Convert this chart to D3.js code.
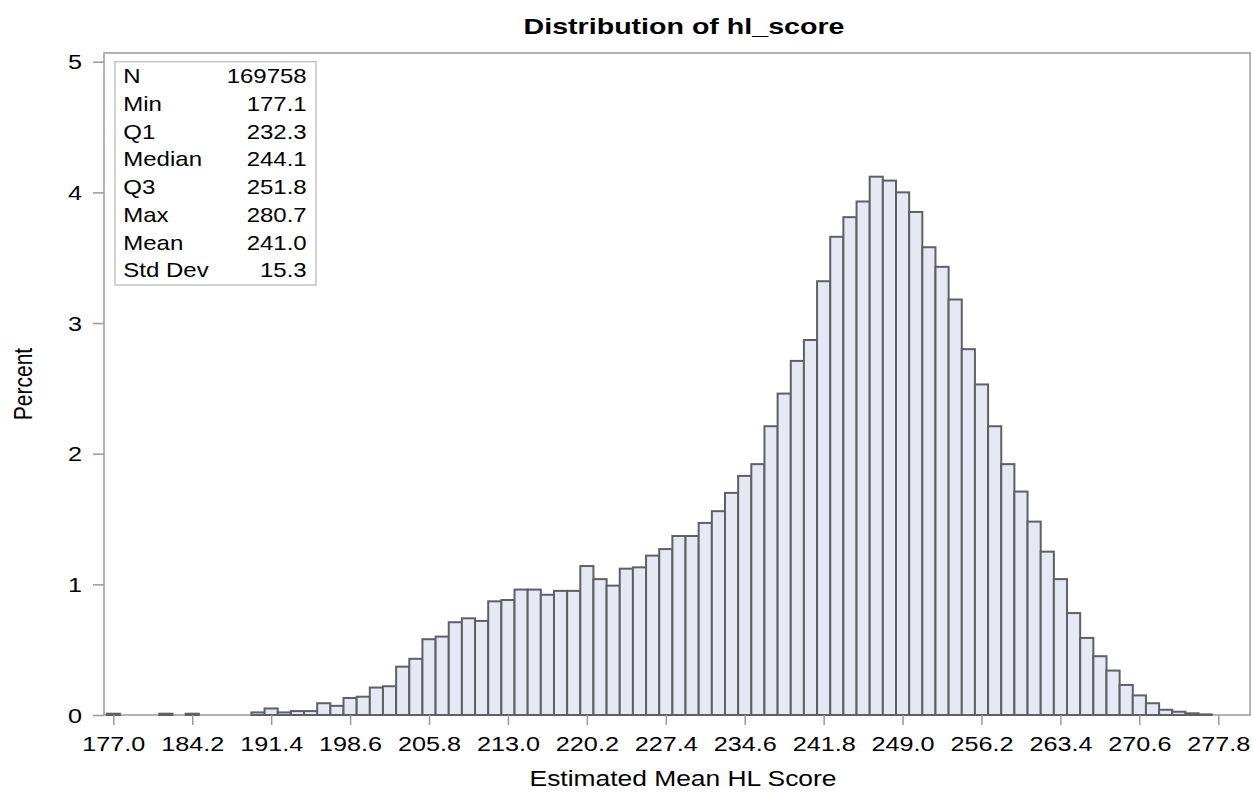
<!DOCTYPE html>
<html>
<head>
<meta charset="utf-8">
<script src="https://cdn.jsdelivr.net/npm/d3@7"></script>
<style>
  body { margin: 0; background: #fff; }
  text { font-family: "Liberation Sans", Arial, sans-serif; fill: #000; }
</style>
</head>
<body>
<div id="viz"></div>
<script>
// histogram bins (midpoints) and percent of obs in each
var binMids = [177.0, 178.2, 179.4, 180.6, 181.8, 183.0, 184.2, 185.4, 186.6, 187.8,
  189.0, 190.2, 191.4, 192.6, 193.8, 195.0, 196.2, 197.4, 198.6, 199.8,
  201.0, 202.2, 203.4, 204.6, 205.8, 207.0, 208.2, 209.4, 210.6, 211.8,
  213.0, 214.2, 215.4, 216.6, 217.8, 219.0, 220.2, 221.4, 222.6, 223.8,
  225.0, 226.2, 227.4, 228.6, 229.8, 231.0, 232.2, 233.4, 234.6, 235.8,
  237.0, 238.2, 239.4, 240.6, 241.8, 243.0, 244.2, 245.4, 246.6, 247.8,
  249.0, 250.2, 251.4, 252.6, 253.8, 255.0, 256.2, 257.4, 258.6, 259.8,
  261.0, 262.2, 263.4, 264.6, 265.8, 267.0, 268.2, 269.4, 270.6, 271.8,
  273.0, 274.2, 275.4, 276.6];
var percents = [0.01, 0, 0, 0, 0.01, 0, 0.01, 0, 0, 0,
  0, 0.02, 0.05, 0.02, 0.03, 0.03, 0.09, 0.07, 0.13, 0.14,
  0.21, 0.22, 0.37, 0.43, 0.58, 0.60, 0.71, 0.74, 0.72, 0.87,
  0.88, 0.96, 0.96, 0.92, 0.95, 0.95, 1.14, 1.04, 0.99, 1.12,
  1.13, 1.22, 1.27, 1.37, 1.37, 1.47, 1.56, 1.70, 1.83, 1.92,
  2.21, 2.46, 2.71, 2.87, 3.32, 3.66, 3.81, 3.93, 4.12, 4.09,
  4.00, 3.85, 3.58, 3.43, 3.18, 2.80, 2.53, 2.21, 1.92, 1.71,
  1.48, 1.25, 1.04, 0.78, 0.59, 0.45, 0.34, 0.23, 0.15, 0.09,
  0.04, 0.025, 0.013, 0.005];
var binWidth = 1.2;

var xTicks = [177.0, 184.2, 191.4, 198.6, 205.8, 213.0, 220.2, 227.4, 234.6, 241.8, 249.0, 256.2, 263.4, 270.6, 277.8];
var yTicks = [0, 1, 2, 3, 4, 5];

var statLabels = ['N', 'Min', 'Q1', 'Median', 'Q3', 'Max', 'Mean', 'Std Dev'];
var statValues = ['169758', '177.1', '232.3', '244.1', '251.8', '280.7', '241.0', '15.3'];

var width = 1253,
    height = 792,
    sx = 1.2;   // the picture is a bit wide, stretch text to match

var plot = { left: 104, right: 1250, top: 53, bottom: 715 };

var xScale = d3.scaleLinear()
  .domain([177.0, 277.8])
  .range([113.3, 1218.3]);

var yScale = d3.scaleLinear()
  .domain([0, 5])
  .range([715, 61.7]);

var svg = d3.select('#viz').append('svg')
  .attr('width', width)
  .attr('height', height);

// frame round the plot area
svg.append('rect')
  .attr('x', plot.left)
  .attr('y', plot.top)
  .attr('width', plot.right - plot.left)
  .attr('height', plot.bottom - plot.top)
  .attr('fill', 'none')
  .attr('stroke', '#9a9a9a')
  .attr('stroke-width', 1.5);

// bars
var bins = binMids.map(function(m, i) { return { mid: m, pct: percents[i] }; })
  .filter(function(d) { return d.pct > 0; });

svg.append('g').selectAll('rect')
  .data(bins)
  .enter().append('rect')
    .attr('x', function(d) { return xScale(d.mid - binWidth / 2); })
    .attr('width', function(d) { return xScale(d.mid + binWidth / 2) - xScale(d.mid - binWidth / 2); })
    .attr('y', function(d) { return yScale(d.pct); })
    .attr('height', function(d) { return yScale(0) - yScale(d.pct); })
    .attr('fill', '#e6e8f3')
    .attr('stroke', '#5e6066')
    .attr('stroke-width', 2);

// axes
var yAxis = d3.axisLeft(yScale).tickValues(yTicks).tickSize(11).tickFormat(d3.format('d'));
var xAxis = d3.axisBottom(xScale).tickValues(xTicks).tickSize(10).tickFormat(d3.format('.1f'));

var yGuide = svg.append('g')
  .attr('transform', 'translate(' + plot.left + ',0)')
  .call(yAxis);
yGuide.select('.domain').remove();
yGuide.selectAll('line').attr('stroke', '#9a9a9a').attr('stroke-width', 1.5);
yGuide.selectAll('text')
  .attr('x', null).attr('dy', null)
  .attr('transform', 'translate(-22,7) scale(' + sx + ',1)')
  .style('font-size', '21px');

var xGuide = svg.append('g')
  .attr('transform', 'translate(0,' + plot.bottom + ')')
  .call(xAxis);
xGuide.select('.domain').remove();
xGuide.selectAll('line').attr('stroke', '#9a9a9a').attr('stroke-width', 1.5);
xGuide.selectAll('text')
  .attr('y', null).attr('dy', null)
  .attr('transform', 'translate(0,36) scale(' + sx + ',1)')
  .style('font-size', '21px');
svg.selectAll('.tick text').attr('fill', '#000');

// title and axis labels
svg.append('text')
  .attr('transform', 'translate(684,34) scale(1.3,1)')
  .attr('text-anchor', 'middle')
  .style('font-size', '22px')
  .style('font-weight', 'bold')
  .text('Distribution of hl_score');

svg.append('text')
  .attr('transform', 'translate(683,786) scale(' + sx + ',1)')
  .attr('text-anchor', 'middle')
  .style('font-size', '22px')
  .text('Estimated Mean HL Score');

svg.append('text')
  .attr('transform', 'translate(32,384) scale(' + sx + ',1) rotate(-90)')
  .attr('text-anchor', 'middle')
  .style('font-size', '21px')
  .text('Percent');

// summary stats inset
var box = svg.append('g');
box.append('rect')
  .attr('x', 115).attr('y', 61.7)
  .attr('width', 201).attr('height', 223.3)
  .attr('fill', '#fff')
  .attr('stroke', '#c4c4c4')
  .attr('stroke-width', 1.5);

box.selectAll('text.lab')
  .data(statLabels)
  .enter().append('text')
    .attr('class', 'lab')
    .attr('transform', function(d, i) { return 'translate(123.3,' + (83.3 + i * 27.7) + ') scale(' + sx + ',1)'; })
    .style('font-size', '20px')
    .text(function(d) { return d; });

box.selectAll('text.val')
  .data(statValues)
  .enter().append('text')
    .attr('class', 'val')
    .attr('transform', function(d, i) { return 'translate(306.7,' + (83.3 + i * 27.7) + ') scale(' + sx + ',1)'; })
    .attr('text-anchor', 'end')
    .style('font-size', '20px')
    .text(function(d) { return d; });
</script>
</body>
</html>
